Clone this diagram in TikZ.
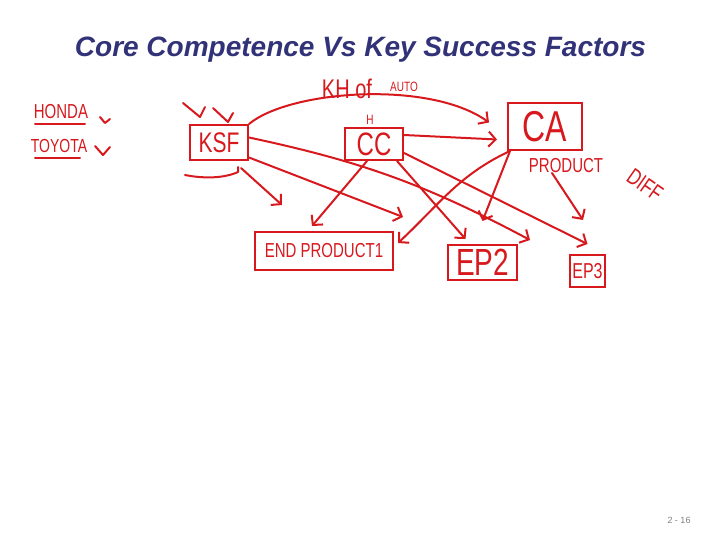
\documentclass[tikz,border=0pt]{standalone}
\usepackage{fontspec}
\setmainfont{Liberation Sans}
\definecolor{titlenavy}{RGB}{50,50,120}
\definecolor{penred}{RGB}{215,25,30}
\usetikzlibrary{arrows.meta,positioning,calc}

\newcommand{\pentall}[1]{\scalebox{1}[1.35]{#1}}

\tikzset{
    penbox/.style={draw=penred, line width=2pt, text=penred, inner sep=0pt},
    pentext/.style={text=penred, inner sep=0pt},
    penline/.style={draw=penred, line width=2pt, line cap=round, line join=round},
    penarrow/.style={penline, -{Straight Barb[length=7pt,width=15pt]}},
}

\begin{document}
\begin{tikzpicture}[x=1pt, y=-1pt]
    \useasboundingbox (0,0) rectangle (720,540);

    \node[anchor=base, text=titlenavy, font=\fontsize{28}{30}\selectfont\bfseries\itshape] (title)
        at (360.5,56.5) {Core Competence Vs Key Success Factors};
    \node[text=black!50, font=\fontsize{9}{10}\selectfont] (pageno) at (679,520) {2 - 16};

    % companies
    \node[pentext, font=\fontsize{15}{16}\selectfont] (honda) at (61,112) {\pentall{HONDA}};
    \node[pentext, font=\fontsize{14}{15}\selectfont] (toyota) at (59,146) {\pentall{TOYOTA}};
    \draw[penline] (35,124) -- (85,124);
    \draw[penline] (35,158) -- (80,158);
    \draw[penline] (100,117) -- (105,123) -- (110,119);
    \draw[penline] (95,146) -- (103,155) -- (110,147);

    % boxes
    \node[penbox, minimum width=58pt, minimum height=35pt, font=\fontsize{21}{22}\selectfont] (ksf) at (219,142.5) {\pentall{KSF}};
    \node[penbox, minimum width=58pt, minimum height=32pt, font=\fontsize{24}{25}\selectfont] (cc) at (374,144) {\pentall{CC}};
    \node[penbox, minimum width=74pt, minimum height=47pt, font=\fontsize{32}{33}\selectfont] (ca) at (545,126.5) {\pentall{CA}};
    \node[penbox, minimum width=138pt, minimum height=38pt, font=\fontsize{15}{16}\selectfont] (ep1) at (324,251) {\pentall{END PRODUCT1}};
    \node[penbox, minimum width=69pt, minimum height=35pt, font=\fontsize{28}{29}\selectfont] (ep2) at (482.5,262.5) {\pentall{EP2}};
    \node[penbox, minimum width=35pt, minimum height=32pt, font=\fontsize{16}{17}\selectfont] (ep3) at (587.5,271) {\pentall{EP3}};

    % notes
    \node[pentext, font=\fontsize{10}{11}\selectfont] (hnote) at (370,120) {\pentall{H}};
    \node[pentext, font=\fontsize{20}{21}\selectfont] (khof) at (347,89) {\pentall{KH of}};
    \node[pentext, font=\fontsize{10}{11}\selectfont] (auto) at (404,87) {\pentall{AUTO}};
    \node[pentext, font=\fontsize{15}{16}\selectfont] (product) at (566,166) {\pentall{PRODUCT}};
    \node[pentext, font=\fontsize{17}{18}\selectfont, rotate=-35] (diff) at (645,185) {\pentall{DIFF}};

    \draw[penline] (183,103) -- (200,117) -- (205,107);
    \draw[penline] (213,108) -- (228,122) -- (233,113);
    \draw[penline] (185,175) .. controls (205,179) and (225,178) .. (238,172) -- (238,167);

    \coordinate (enda) at (530,240);
    \coordinate (endb) at (403,217);
    \coordinate (endc) at (282,205);
    \coordinate (endd) at (583,220);

    % connectors
    \draw[penarrow] (ksf.north east) .. controls (290,90) and (430,80) .. ([xshift=-18pt,yshift=4pt]ca.west);
    \draw[penarrow] ([yshift=9pt]cc.east) -- ([xshift=-10pt,yshift=-13pt]ca.west);
    \draw[penarrow] ([yshift=5pt]ksf.east) to[bend left=8] (enda);
    \draw[penarrow] ([yshift=-15pt]ksf.east) -- (endb);
    \draw[penarrow] ([xshift=-8pt,yshift=-7pt]ksf.south east) -- (endc);
    \draw[penarrow] ([xshift=-7pt]cc.south) -- ([xshift=-12pt,yshift=5pt]ep1.north);
    \draw[penarrow] ([yshift=-9pt]cc.east) -- ([yshift=10pt]ep3.north);
    \draw[penarrow] ([xshift=-7pt]cc.south east) -- ([xshift=-17pt,yshift=5pt]ep2.north);
    \draw[penarrow] ([xshift=3pt]ca.south west) to[out=205,in=43] ([xshift=4pt,yshift=8pt]ep1.east);
    \draw[penarrow] ([xshift=3pt]ca.south west) -- ([yshift=23pt]ep2.north);
    \draw[penarrow] ([xshift=-14pt,yshift=-7pt]product.center) -- (endd);
\end{tikzpicture}
\end{document}
